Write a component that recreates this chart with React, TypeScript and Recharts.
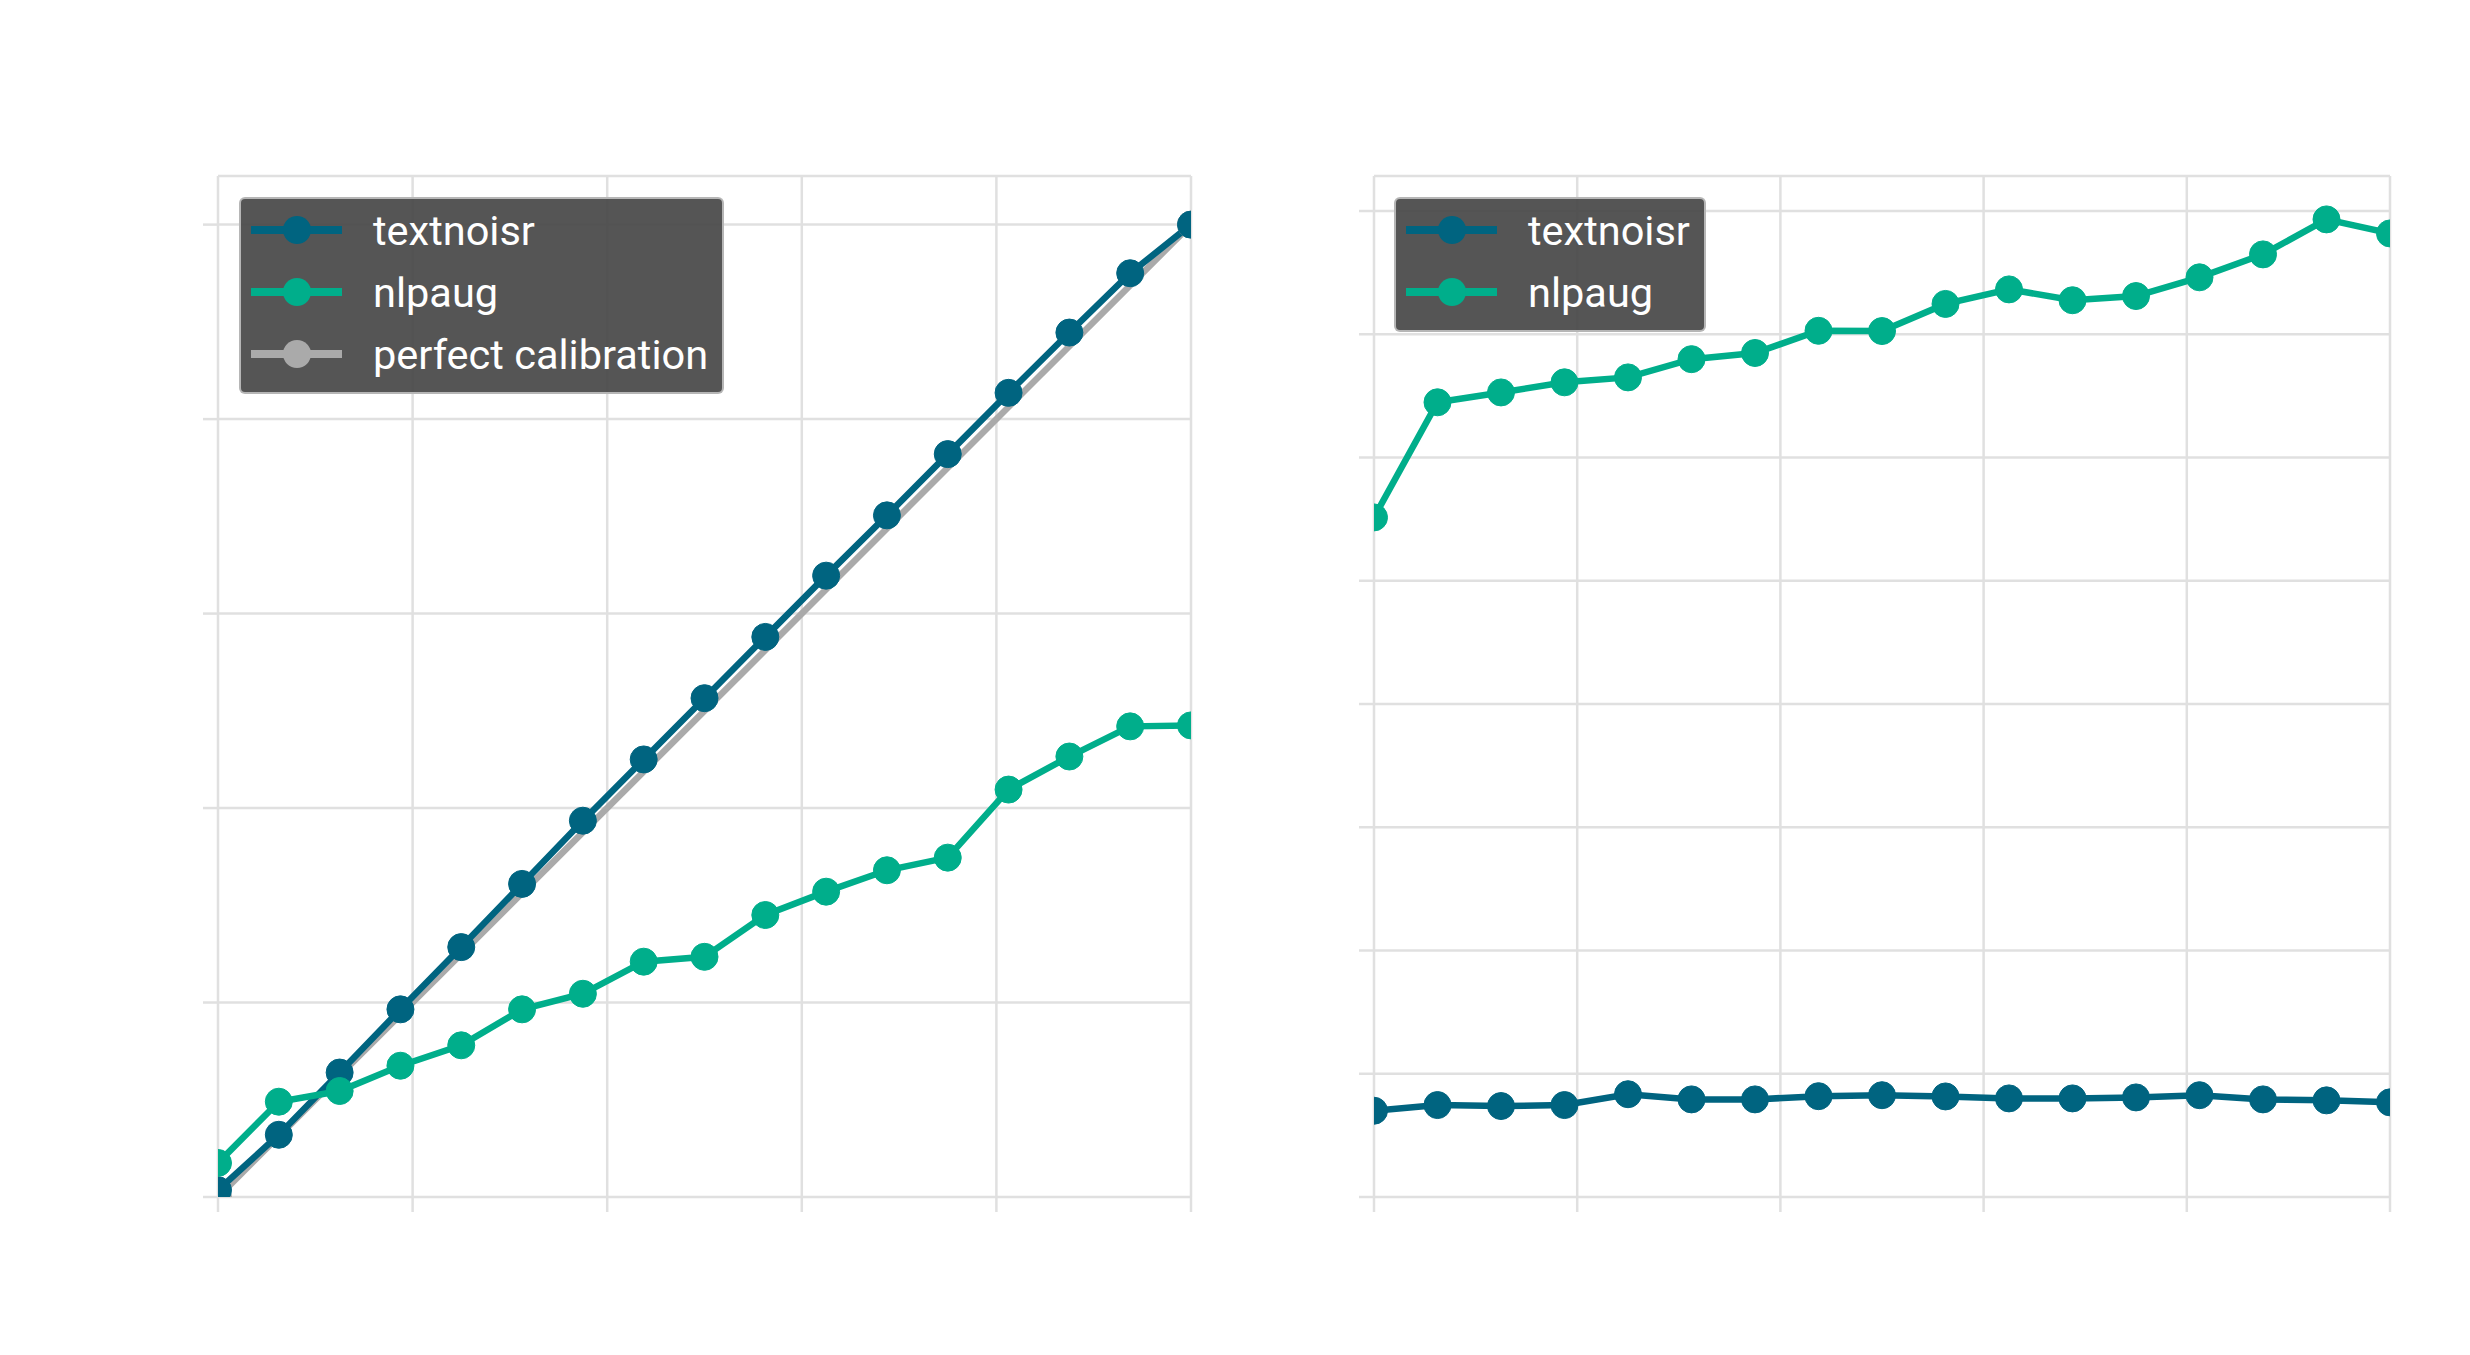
import React from "react";
import {
    LineChart,
    Line,
    XAxis,
    YAxis,
    ReferenceLine,
} from "recharts";

// x positions shared by both panels (17 bins)
const BINS = [0, 0.0625, 0.125, 0.1875, 0.25, 0.3125, 0.375, 0.4375, 0.5, 0.5625, 0.625, 0.6875, 0.75, 0.8125, 0.875, 0.9375, 1]

// left panel
const leftTextnoisr = [0.007, 0.064, 0.128, 0.193, 0.257, 0.322, 0.387, 0.45, 0.513, 0.576, 0.639, 0.701, 0.764, 0.827, 0.889, 0.95, 1.0]
const leftNlpaug = [0.035, 0.098, 0.109, 0.135, 0.156, 0.193, 0.209, 0.242, 0.247, 0.29, 0.314, 0.336, 0.349, 0.419, 0.453, 0.484, 0.485]
// diagonal reference: only its two end points
const perfectX = [0, 1]
const perfectY = [0, 1]

// right panel
const rightTextnoisr = [0.035, 0.0373, 0.0369, 0.0373, 0.0417, 0.0396, 0.0396, 0.0409, 0.0413, 0.0408, 0.04, 0.04, 0.0404, 0.0413, 0.0396, 0.0392, 0.0384]
const rightNlpaug = [0.2757, 0.3224, 0.3264, 0.3305, 0.3325, 0.3399, 0.3424, 0.3514, 0.3513, 0.3623, 0.3682, 0.3638, 0.3655, 0.3731, 0.3824, 0.3966, 0.3909]

const X_TICKS = [0, 0.2, 0.4, 0.6, 0.8, 1]
const LEFT_Y_TICKS = [0, 0.2, 0.4, 0.6, 0.8, 1]
const LEFT_Y_MAX = 1.05
const RIGHT_Y_TICKS = [0, 0.05, 0.1, 0.15, 0.2, 0.25, 0.3, 0.35, 0.4]
const RIGHT_Y_MAX = 0.4142

const C_TEXTNOISR = "#006480"
const C_NLPAUG = "#00ae8b"
const C_PERFECT = "#aaaaaa"
const GRID = "#e0e0e0"
const FONT = "Roboto, 'Noto Sans', sans-serif"

const leftData = BINS.map((x, i) => ({
    x,
    textnoisr: leftTextnoisr[i],
    nlpaug: leftNlpaug[i],
}))

const perfectData = perfectX.map((x, i) => ({ x, perfect: perfectY[i] }))

const rightData = BINS.map((x, i) => ({
    x,
    textnoisr: rightTextnoisr[i],
    nlpaug: rightNlpaug[i],
}))

type LegendItem = { label: string; color: string }

function BoxLegend({ items, width, left, top }: { items: LegendItem[]; width: number; left: number; top: number }) {
    return (
        <div
            style={{
                position: "absolute",
                left,
                top,
                width,
                boxSizing: "border-box",
                background: "rgba(72,72,72,0.93)",
                border: "2px solid rgba(200,200,200,0.85)",
                borderRadius: 6,
                padding: "0px 0 7px 10px",
                fontFamily: FONT,
            }}
        >
            {items.map((it) => (
                <div key={it.label} style={{ height: 62, display: "flex", alignItems: "center" }}>
                    <svg width={91} height={30} style={{ flex: "none" }}>
                        <line x1={0} x2={91} y1={15} y2={15} stroke={it.color} strokeWidth={8} />
                        <circle cx={46} cy={15} r={14} fill={it.color} />
                    </svg>
                    <span style={{ marginLeft: 31, color: "#ffffff", fontSize: 41.5, whiteSpace: "nowrap" }}>
                        {it.label}
                    </span>
                </div>
            ))}
        </div>
    )
}

const dotStyle = (color: string) => ({ r: 13.5, fill: color, stroke: color, strokeWidth: 1 })
const emptyTick = () => <g />

function gridLines(xTicks: number[], yTicks: number[], yMax: number) {
    return [
        ...xTicks.map((v) => <ReferenceLine key={"gx" + v} x={v} stroke={GRID} strokeWidth={2.5} />),
        ...yTicks.map((v) => <ReferenceLine key={"gy" + v} y={v} stroke={GRID} strokeWidth={2.5} />),
        <ReferenceLine key="top" y={yMax} stroke={GRID} strokeWidth={2.5} />,
    ]
}

function axes(yMax: number, yTicks: number[]) {
    return [
        <XAxis
            key="xa"
            dataKey="x"
            type="number"
            domain={[0, 1]}
            ticks={X_TICKS}
            interval={0}
            allowDataOverflow
            height={20}
            axisLine={false}
            tick={emptyTick}
            tickSize={15}
            tickLine={{ stroke: GRID, strokeWidth: 2.5 }}
        />,
        <YAxis
            key="ya"
            type="number"
            domain={[0, yMax]}
            ticks={yTicks}
            interval={0}
            allowDataOverflow
            width={20}
            axisLine={false}
            tick={emptyTick}
            tickSize={15}
            tickLine={{ stroke: GRID, strokeWidth: 2.5 }}
        />,
    ]
}

export default function App() {
    return (
        <div style={{ position: "absolute", left: 0, top: 0, width: 2470, height: 1355, background: "#fff", fontFamily: FONT }}>
            <div style={{ position: "absolute", left: 0, top: 0 }}>
                <LineChart
                    width={1250}
                    height={1355}
                    data={leftData}
                    margin={{ top: 176, left: 198, right: 59, bottom: 138 }}
                >
                    {axes(LEFT_Y_MAX, LEFT_Y_TICKS)}
                    {gridLines(X_TICKS, LEFT_Y_TICKS, LEFT_Y_MAX)}
                    <Line data={perfectData} dataKey="perfect" name="perfect calibration" stroke={C_PERFECT} strokeWidth={6.5} dot={dotStyle(C_PERFECT)} isAnimationActive={false} />
                    <Line dataKey="textnoisr" name="textnoisr" stroke={C_TEXTNOISR} strokeWidth={6.5} dot={dotStyle(C_TEXTNOISR)} isAnimationActive={false} />
                    <Line dataKey="nlpaug" name="nlpaug" stroke={C_NLPAUG} strokeWidth={6.5} dot={dotStyle(C_NLPAUG)} isAnimationActive={false} />
                </LineChart>
            </div>
            <div style={{ position: "absolute", left: 1300, top: 0 }}>
                <LineChart
                    width={1170}
                    height={1355}
                    data={rightData}
                    margin={{ top: 176, left: 54, right: 80, bottom: 138 }}
                >
                    {axes(RIGHT_Y_MAX, RIGHT_Y_TICKS)}
                    {gridLines(X_TICKS, RIGHT_Y_TICKS, RIGHT_Y_MAX)}
                    <Line dataKey="textnoisr" name="textnoisr" stroke={C_TEXTNOISR} strokeWidth={6.5} dot={dotStyle(C_TEXTNOISR)} isAnimationActive={false} />
                    <Line dataKey="nlpaug" name="nlpaug" stroke={C_NLPAUG} strokeWidth={6.5} dot={dotStyle(C_NLPAUG)} isAnimationActive={false} />
                </LineChart>
            </div>
            <BoxLegend
                left={239}
                top={197}
                width={485}
                items={[
                    { label: "textnoisr", color: C_TEXTNOISR },
                    { label: "nlpaug", color: C_NLPAUG },
                    { label: "perfect calibration", color: C_PERFECT },
                ]}
            />
            <BoxLegend
                left={1394}
                top={197}
                width={312}
                items={[
                    { label: "textnoisr", color: C_TEXTNOISR },
                    { label: "nlpaug", color: C_NLPAUG },
                ]}
            />
        </div>
    )
}
